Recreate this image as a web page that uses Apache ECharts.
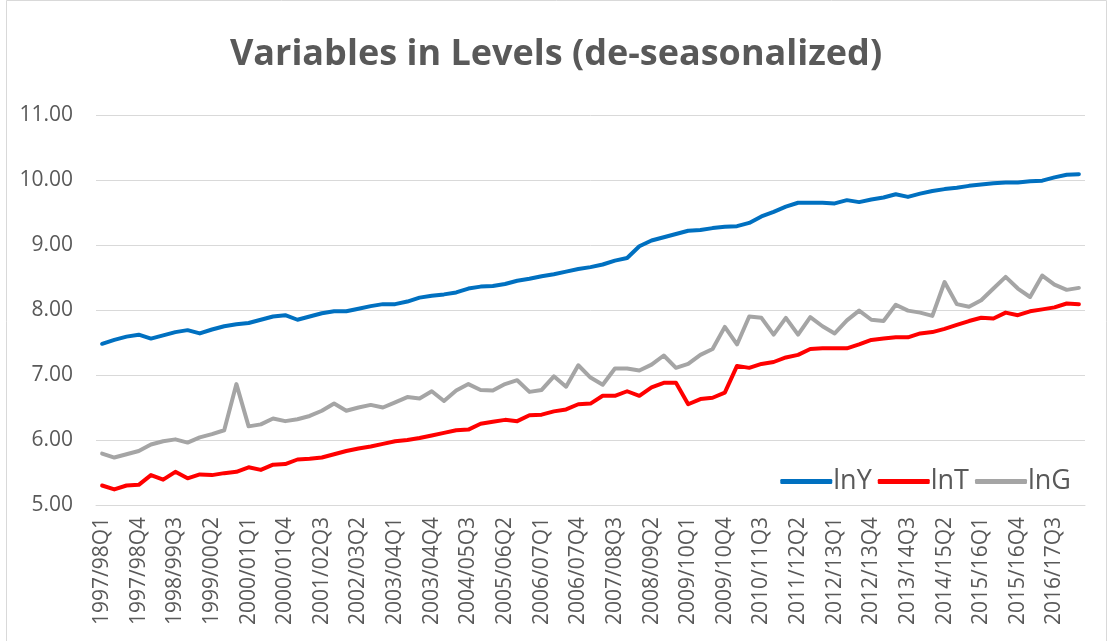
<!DOCTYPE html>
<html lang="en">
<head>
  <meta charset="UTF-8">
  <title>Variables in Levels</title>
  <script src="https://cdn.jsdelivr.net/npm/echarts@6/dist/echarts.min.js"></script>
  <style>
    body { margin: 0; background: #fff; }
    #chart { width: 1112px; height: 641px; }
  </style>
</head>
<body>
  <div id="chart"></div>
<script>
  // quarters 1997/98Q1 .. 2017/18Q1
  const quarters = [];
  for (let y = 1997; y <= 2017; y++) {
    for (let q = 1; q <= 4; q++) {
      const label = y + '/' + String((y + 1) % 100).padStart(2, '0') + 'Q' + q;
      quarters.push(label);
      if (quarters.length === 81) break;
    }
    if (quarters.length === 81) break;
  }

  const lnY = [7.48, 7.54, 7.59, 7.62, 7.56, 7.61, 7.66, 7.69, 7.64, 7.70,
    7.75, 7.78, 7.80, 7.85, 7.90, 7.92, 7.85, 7.90, 7.95, 7.98,
    7.98, 8.02, 8.06, 8.09, 8.09, 8.13, 8.19, 8.22, 8.24, 8.27,
    8.33, 8.36, 8.37, 8.40, 8.45, 8.48, 8.52, 8.55, 8.59, 8.63,
    8.66, 8.70, 8.76, 8.80, 8.98, 9.07, 9.12, 9.17, 9.22, 9.23,
    9.26, 9.28, 9.29, 9.34, 9.44, 9.51, 9.59, 9.65, 9.65, 9.65,
    9.64, 9.69, 9.66, 9.70, 9.73, 9.78, 9.74, 9.79, 9.83, 9.86,
    9.88, 9.91, 9.93, 9.95, 9.96, 9.96, 9.98, 9.99, 10.04, 10.08,
    10.09];

  const lnT = [5.30, 5.24, 5.30, 5.31, 5.46, 5.39, 5.51, 5.41, 5.47, 5.46,
    5.49, 5.51, 5.58, 5.54, 5.62, 5.63, 5.70, 5.71, 5.73, 5.78,
    5.83, 5.87, 5.90, 5.94, 5.98, 6.00, 6.03, 6.07, 6.11, 6.15,
    6.16, 6.25, 6.28, 6.31, 6.29, 6.38, 6.39, 6.44, 6.47, 6.55,
    6.56, 6.68, 6.68, 6.75, 6.68, 6.81, 6.88, 6.88, 6.55, 6.63,
    6.65, 6.73, 7.14, 7.11, 7.17, 7.20, 7.27, 7.31, 7.40, 7.41,
    7.41, 7.41, 7.47, 7.54, 7.56, 7.58, 7.58, 7.64, 7.66, 7.71,
    7.77, 7.83, 7.88, 7.87, 7.96, 7.92, 7.98, 8.01, 8.04, 8.10,
    8.09];

  const lnG = [5.79, 5.73, 5.78, 5.83, 5.93, 5.98, 6.01, 5.96, 6.04, 6.09,
    6.15, 6.86, 6.21, 6.24, 6.33, 6.29, 6.32, 6.37, 6.45, 6.56,
    6.45, 6.50, 6.54, 6.50, 6.58, 6.66, 6.64, 6.75, 6.60, 6.76,
    6.86, 6.77, 6.76, 6.86, 6.92, 6.74, 6.77, 6.98, 6.82, 7.15,
    6.96, 6.85, 7.10, 7.10, 7.07, 7.16, 7.30, 7.11, 7.17, 7.31,
    7.40, 7.74, 7.47, 7.90, 7.88, 7.62, 7.88, 7.62, 7.89, 7.75,
    7.64, 7.84, 7.99, 7.85, 7.83, 8.08, 7.99, 7.96, 7.91, 8.43,
    8.09, 8.05, 8.15, 8.33, 8.51, 8.33, 8.20, 8.53, 8.39, 8.31,
    8.34];

  const yTicks = [5, 6, 7, 8, 9, 10, 11];

  const chart = echarts.init(document.getElementById('chart'));
  const txt = '#595959';
  const font = 'Open Sans, Liberation Sans, sans-serif';

  function line(name, data, color) {
    return {
      name: name,
      type: 'line',
      data: data,
      showSymbol: false,
      symbol: 'none',
      silent: true,
      lineStyle: { color: color, width: 4, cap: 'round', join: 'round' },
      itemStyle: { color: color }
    };
  }

  chart.setOption({
    animation: false,
    backgroundColor: '#fff',
    textStyle: { fontFamily: font },
    title: {
      text: 'Variables in Levels (de-seasonalized)',
      left: 'center',
      top: 32,
      textStyle: { fontSize: 36, fontWeight: 'bold', color: txt, fontFamily: font }
    },
    graphic: [{
      type: 'rect',
      shape: { x: 6.5, y: 0.5, width: 1100, height: 660 },
      style: { fill: 'none', stroke: '#d9d9d9', lineWidth: 1 },
      silent: true
    }],
    legend: {
      data: ['lnY', 'lnT', 'lnG'],
      right: 36,
      top: 463,
      icon: 'roundRect',
      itemWidth: 52,
      itemHeight: 5,
      itemGap: 6,
      textStyle: { fontSize: 27, color: txt, padding: [0, 0, 0, -4] }
    },
    grid: { left: 96, right: 27, top: 115, bottom: 136 },
    xAxis: {
      type: 'category',
      data: quarters,
      boundaryGap: true,
      axisLine: { lineStyle: { color: '#d9d9d9' } },
      axisTick: { show: false },
      axisLabel: {
        interval: 2,
        rotate: 90,
        color: txt,
        fontSize: 21,
        margin: 12
      }
    },
    yAxis: {
      type: 'value',
      min: yTicks[0],
      max: yTicks[yTicks.length - 1],
      interval: 1,
      axisLine: { show: false },
      axisTick: { show: false },
      splitLine: { lineStyle: { color: '#d9d9d9', width: 1 } },
      axisLabel: {
        color: txt,
        fontSize: 21,
        margin: 23,
        formatter: v => v.toFixed(2)
      }
    },
    series: [
      line('lnY', lnY, '#0070c0'),
      line('lnT', lnT, '#ff0000'),
      line('lnG', lnG, '#a5a5a5')
    ]
  });
</script>
</body>
</html>
